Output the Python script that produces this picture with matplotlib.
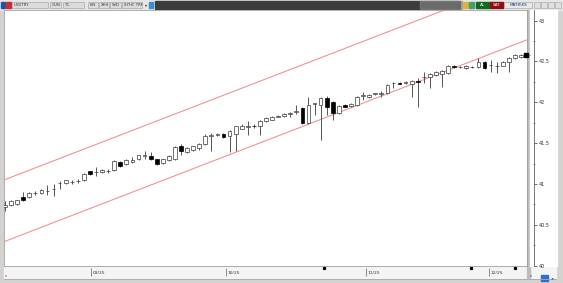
import numpy as np
import matplotlib.pyplot as plt
from matplotlib.patches import Rectangle

# USDTRY daily candles (open, high, low, close)
opens = [40.716, 40.740, 40.752, 40.838, 40.838, 40.885, 40.887, 40.909, 40.933, 41.006,
         41.008, 41.019, 41.031, 41.045, 41.155, 41.141, 41.143, 41.153, 41.167, 41.265,
         41.240, 41.265, 41.301, 41.348, 41.338, 41.301, 41.252, 41.289, 41.301, 41.460,
         41.387, 41.411, 41.435, 41.484, 41.592, 41.604, 41.618, 41.582, 41.618, 41.679,
         41.702, 41.716, 41.716, 41.765, 41.789, 41.826, 41.838, 41.860, 41.885, 41.930,
         41.752, 41.982, 41.972, 42.057, 42.008, 41.874, 41.972, 41.960, 41.972, 42.080,
         42.069, 42.104, 42.104, 42.118, 42.238, 42.240, 42.236, 42.228, 42.256, 42.311,
         42.313, 42.338, 42.350, 42.362, 42.448, 42.433, 42.423, 42.433, 42.435, 42.496,
         42.458, 42.446, 42.448, 42.496, 42.545, 42.557]
highs = [40.789, 40.800, 40.810, 40.899, 40.900, 40.911, 40.935, 40.984, 40.996, 41.033,
         41.050, 41.045, 41.057, 41.130, 41.160, 41.204, 41.180, 41.179, 41.290, 41.277,
         41.300, 41.326, 41.360, 41.399, 41.387, 41.310, 41.310, 41.350, 41.460, 41.484,
         41.448, 41.470, 41.500, 41.606, 41.630, 41.630, 41.630, 41.655, 41.716, 41.730,
         41.765, 41.730, 41.789, 41.826, 41.838, 41.850, 41.874, 41.887, 41.972, 41.945,
         42.069, 41.996, 42.069, 42.082, 42.020, 41.970, 41.980, 41.996, 42.080, 42.130,
         42.106, 42.120, 42.143, 42.228, 42.245, 42.250, 42.255, 42.277, 42.301, 42.374,
         42.362, 42.387, 42.399, 42.460, 42.460, 42.450, 42.460, 42.450, 42.545, 42.508,
         42.521, 42.496, 42.508, 42.557, 42.594, 42.594]
lows = [40.667, 40.730, 40.740, 40.789, 40.830, 40.862, 40.880, 40.862, 40.850, 40.935,
        41.000, 40.996, 41.008, 41.033, 41.110, 41.094, 41.130, 41.130, 41.160, 41.204,
        41.230, 41.252, 41.290, 41.301, 41.289, 41.230, 41.240, 41.280, 41.290, 41.350,
        41.375, 41.400, 41.420, 41.472, 41.399, 41.582, 41.560, 41.387, 41.399, 41.670,
        41.594, 41.690, 41.594, 41.755, 41.780, 41.815, 41.826, 41.826, 41.862, 41.740,
        41.740, 41.850, 41.533, 41.850, 41.789, 41.862, 41.940, 41.947, 41.960, 42.033,
        42.057, 42.090, 42.069, 42.106, 42.179, 42.220, 42.225, 42.069, 41.947, 42.240,
        42.179, 42.326, 42.191, 42.350, 42.425, 42.420, 42.410, 42.420, 42.423, 42.411,
        42.374, 42.362, 42.440, 42.374, 42.533, 42.545]
closes = [40.740, 40.789, 40.801, 40.801, 40.887, 40.890, 40.923, 40.913, 40.937, 41.010,
          41.045, 41.023, 41.035, 41.118, 41.118, 41.145, 41.167, 41.157, 41.277, 41.216,
          41.289, 41.289, 41.350, 41.352, 41.301, 41.240, 41.301, 41.338, 41.448, 41.399,
          41.435, 41.460, 41.484, 41.582, 41.596, 41.608, 41.570, 41.643, 41.704, 41.716,
          41.706, 41.704, 41.777, 41.813, 41.826, 41.838, 41.862, 41.864, 41.889, 41.752,
          41.972, 41.986, 42.057, 41.947, 41.874, 41.960, 41.947, 41.984, 42.069, 42.084,
          42.094, 42.108, 42.108, 42.216, 42.242, 42.228, 42.244, 42.265, 42.250, 42.315,
          42.350, 42.374, 42.387, 42.448, 42.435, 42.437, 42.448, 42.437, 42.496, 42.423,
          42.462, 42.450, 42.496, 42.545, 42.582, 42.582]

# trend channel (lower / upper line end points, in bar index and price)
chan_x = [0, 86]
chan_low = [40.298, 42.765]
chan_up = [41.054, 43.520]

price_ticks = [40, 40.5, 41, 41.5, 42, 42.5, 43]
price_labels = ['40', '40.5', '41', '41.5', '42', '42.5', '43']
date_pos = [14.2, 36.4, 59.5, 79.7]
date_labels = ['09/25', '10/25', '11/25', '12/25']
event_pos = [52.5, 76.8, 84.0]

W, H = 563, 283
fig = plt.figure(figsize=(W / 100, H / 100), dpi=100)


def px(x0, y0, x1, y1):
    return [x0 / W, 1 - y1 / H, (x1 - x0) / W, (y1 - y0) / H]


# window frame / toolbar drawn in pixel coordinates
bg = fig.add_axes([0, 0, 1, 1])
bg.set_xlim(0, W)
bg.set_ylim(H, 0)
bg.axis('off')
bg.add_patch(Rectangle((0, 0), W, H, color='#d4d2cf'))
bg.add_patch(Rectangle((0, 0), W, 10, color='#e6e6e6'))
bg.add_patch(Rectangle((155, 1), 305, 7.5, color='#3c3c3c'))
bg.add_patch(Rectangle((420, 1), 42, 7.5, color='#8a8a8a', alpha=0.6))
bg.add_patch(Rectangle((1, 1.5), 4, 6, color='#2a4ea0'))
bg.add_patch(Rectangle((6, 1.5), 5, 6, color='#c83030'))
for x0, x1, lab in [(12, 48, 'USDTRY'), (50, 61, 'GUN'), (63, 84, 'TL'),
                    (88, 98, 'LIN'), (99, 109, 'XHH'), (110, 121, 'SVD'),
                    (122, 142, 'SYHC TRF')]:
    bg.add_patch(Rectangle((x0, 1.5), x1 - x0, 6.5, facecolor='#dcdcdc',
                           edgecolor='#9a9a9a', lw=0.4))
    bg.text(x0 + 2, 5, lab, fontsize=2.8, va='center', color='#333333')
bg.text(145, 5, '▾', fontsize=3, va='center', color='#333333')
bg.add_patch(Rectangle((149, 1.5), 4, 6, color='#3a8ed8'))
bg.add_patch(Rectangle((463, 1.5), 5, 6, color='#e0b040'))
bg.add_patch(Rectangle((469, 1.5), 5, 6, color='#40a070'))
bg.add_patch(Rectangle((476, 1.5), 14, 6.5, color='#0f6a1a'))
bg.text(483, 5, 'AL', fontsize=3, ha='center', va='center', color='white')
bg.add_patch(Rectangle((490, 1.5), 13, 6.5, color='#8c1010'))
bg.text(496.5, 5, 'SAT', fontsize=3, ha='center', va='center', color='white')
bg.add_patch(Rectangle((504, 1.5), 28, 6.5, facecolor='#e8e8e8',
                       edgecolor='#9a9a9a', lw=0.4))
bg.text(518, 5, 'MATRIKS', fontsize=3, ha='center', va='center', color='#1a2a8a')
for x0 in [534, 541, 548, 555]:
    bg.add_patch(Rectangle((x0, 2), 6, 6, facecolor='#e0e0e0',
                           edgecolor='#a0a0a0', lw=0.4))
bg.add_patch(Rectangle((4, 266), 552, 12, color='#f4f4f4'))
bg.add_patch(Rectangle((527, 10), 2.5, 268, color='#bdbdbd'))
bg.add_patch(Rectangle((529.5, 10), 27, 256, color='white'))
bg.plot([4, 556], [278.5, 278.5], color='#a8a8a8', lw=0.6)
bg.text(5, 277, 'ııı', fontsize=3, color='#555555')
bg.text(530, 277, 'ııı', fontsize=3, color='#555555')
bg.add_patch(Rectangle((541, 275), 7, 6, color='#2a6fd0'))
bg.text(551, 278, '◂▸', fontsize=3, va='center', color='#2a6fd0')

# main candle chart
ax = fig.add_axes(px(4, 10, 527, 266))
ax.set_facecolor('white')
idx = np.arange(len(closes))
o = np.array(opens)
c = np.array(closes)
up = c >= o
ax.vlines(idx, lows, highs, color='#3a3a3a', lw=0.6, zorder=2)
body = np.maximum(np.abs(c - o), 0.004)
ax.bar(idx[up], body[up], bottom=o[up], width=0.62, facecolor='white',
       edgecolor='#3a3a3a', lw=0.5, zorder=3)
ax.bar(idx[~up], body[~up], bottom=c[~up], width=0.62, facecolor='black',
       edgecolor='black', lw=0.5, zorder=3)
ax.plot(chan_x, chan_low, color='#f39393', lw=0.8, zorder=1)
ax.plot(chan_x, chan_up, color='#f39393', lw=0.8, zorder=1)
ax.set_xlim(-0.16, 86.0)
ax.set_ylim(39.996, 43.130)
ax.set_xticks([])
ax.set_yticks([])
for s in ax.spines.values():
    s.set_color('#a0a0a0')
    s.set_linewidth(0.6)

# price scale
ap = fig.add_axes(px(529.5, 10, 556, 266))
ap.patch.set_alpha(0)
ap.set_ylim(39.996, 43.130)
ap.set_xlim(0, 1)
for s in ['left', 'top', 'bottom']:
    ap.spines[s].set_visible(False)
ap.spines['right'].set_position(('axes', 0.17))
ap.spines['right'].set_color('#606060')
ap.spines['right'].set_linewidth(0.6)
ap.yaxis.tick_right()
ap.set_xticks([])
ap.set_yticks(price_ticks)
ap.set_yticklabels(price_labels)
ap.set_yticks(np.arange(40.25, 43, 0.5), minor=True)
ap.tick_params(axis='y', which='major', length=2.5, width=0.5, pad=1,
               labelsize=3.5, colors='#333333')
ap.tick_params(axis='y', which='minor', length=1.5, width=0.5, direction='inout',
               colors='#606060')
ap.plot([-0.2, 0.0], [closes[-1], closes[-1]], color='#60d8e0', lw=0.8, clip_on=False)
ap.plot([-0.14], [closes[-1]], 's', ms=2.2, color='black', clip_on=False)

# date strip
ad = fig.add_axes(px(4, 266, 527, 278))
ad.patch.set_alpha(0)
ad.set_xlim(-0.16, 86.0)
ad.set_ylim(0, 1)
ad.axis('off')
ad.vlines(date_pos, 0.15, 0.85, color='#606060', lw=0.5)
for xp, lab in zip(date_pos, date_labels):
    ad.text(xp + 0.25, 0.45, lab, fontsize=3.2, va='center', color='#333333')
ad.plot(event_pos, [0.85] * len(event_pos), 's', ms=1.3, color='black')

fig.savefig('out.png', dpi=100)
